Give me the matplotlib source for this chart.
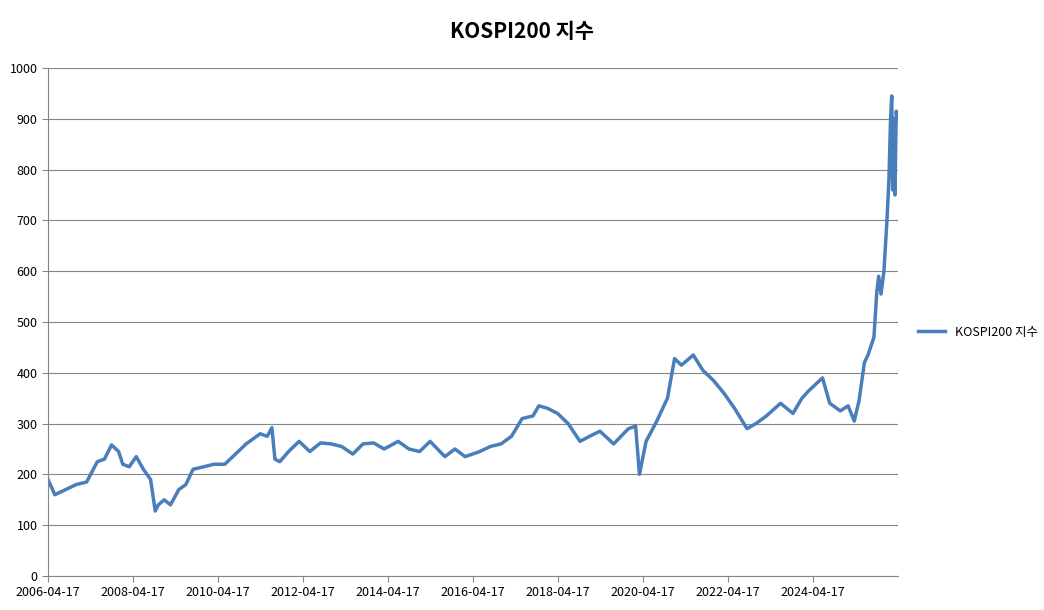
import matplotlib
matplotlib.use("Agg")
import matplotlib.pyplot as plt
import pandas as pd

plt.rcParams['font.family'] = ['Noto Sans CJK KR', 'DejaVu Sans']

dates = ["2006-04-17", "2006-06-15", "2006-09-15", "2006-12-15", "2007-03-15", "2007-06-15",
         "2007-08-15", "2007-10-15", "2007-12-15", "2008-01-20", "2008-03-15", "2008-05-15",
         "2008-07-15", "2008-09-15", "2008-10-25", "2008-11-20", "2009-01-10", "2009-03-05",
         "2009-05-15", "2009-07-15", "2009-09-15", "2009-12-15", "2010-03-15", "2010-06-15",
         "2010-09-15", "2010-12-15", "2011-04-15", "2011-06-15", "2011-07-25", "2011-08-20",
         "2011-10-01", "2011-12-15", "2012-03-15", "2012-06-15", "2012-09-15", "2012-12-15",
         "2013-03-15", "2013-06-20", "2013-09-15", "2013-12-15", "2014-03-15", "2014-07-15",
         "2014-10-15", "2015-01-15", "2015-04-15", "2015-08-20", "2015-11-15", "2016-02-10",
         "2016-06-15", "2016-09-15", "2016-12-15", "2017-03-15", "2017-06-15", "2017-09-15",
         "2017-11-05", "2018-01-20", "2018-04-15", "2018-07-15", "2018-10-25", "2019-01-15",
         "2019-04-15", "2019-08-10", "2019-12-15", "2020-02-15", "2020-03-19", "2020-05-15",
         "2020-08-15", "2020-11-15", "2021-01-15", "2021-03-15", "2021-06-25", "2021-09-15",
         "2021-12-15", "2022-03-15", "2022-06-15", "2022-09-30", "2022-12-15", "2023-03-15",
         "2023-07-15", "2023-10-30", "2024-01-15", "2024-03-15", "2024-07-10", "2024-09-10",
         "2024-12-10", "2025-02-15", "2025-04-09", "2025-05-20", "2025-07-05", "2025-08-05",
         "2025-09-25", "2025-10-20", "2025-11-05", "2025-11-25", "2025-12-20", "2026-01-15",
         "2026-02-01", "2026-02-15", "2026-02-25", "2026-03-05", "2026-03-15", "2026-03-25",
         "2026-04-05", "2026-04-15"]
values = [190, 160, 170, 180, 185, 225,
          230, 258, 245, 220, 215, 235,
          210, 190, 128, 140, 150, 140,
          170, 180, 210, 215, 220, 220,
          240, 260, 280, 275, 292, 230,
          225, 245, 265, 245, 262, 260,
          255, 240, 260, 262, 250, 265,
          250, 245, 265, 235, 250, 235,
          245, 255, 260, 275, 310, 315,
          335, 330, 320, 300, 265, 275,
          285, 260, 290, 295, 200, 265,
          305, 350, 428, 415, 435, 405,
          385, 360, 330, 290, 300, 315,
          340, 320, 350, 365, 390, 340,
          325, 335, 305, 345, 420, 435,
          470, 560, 590, 555, 600, 700,
          780, 900, 945, 760, 900, 750,
          915, 900]

x = pd.to_datetime(dates)

fig = plt.figure(figsize=(10.44, 6.1), dpi=100)
ax = fig.add_axes([48/1044, 34/610, 850/1044, 508/610])
ax.plot(x, values, color='#4a7ebb', lw=2.5, label='KOSPI200 지수')

ax.set_ylim(0, 1000)
ax.set_yticks(range(0, 1001, 100))
ax.set_xlim(pd.Timestamp("2006-04-17"), pd.Timestamp("2026-04-20"))
ticks = [pd.Timestamp(f"{y}-04-17") for y in range(2006, 2025, 2)]
ax.set_xticks(ticks)
ax.set_xticklabels([t.strftime("%Y-%m-%d") for t in ticks])
ax.tick_params(labelsize=9, length=4, color='#888888')
ax.grid(axis='y', color='#868686', lw=0.8)
ax.set_axisbelow(True)
for s in ['top', 'right']:
    ax.spines[s].set_visible(False)
ax.spines['left'].set_color('#868686')
ax.spines['bottom'].set_color('#868686')

fig.suptitle('KOSPI200 지수', fontsize=15, fontweight='bold', y=0.965)
ax.legend(loc='center left', bbox_to_anchor=(1.01, 0.48), frameon=False, fontsize=9,
          handlelength=2.2)

fig.savefig('out.png', dpi=100)
